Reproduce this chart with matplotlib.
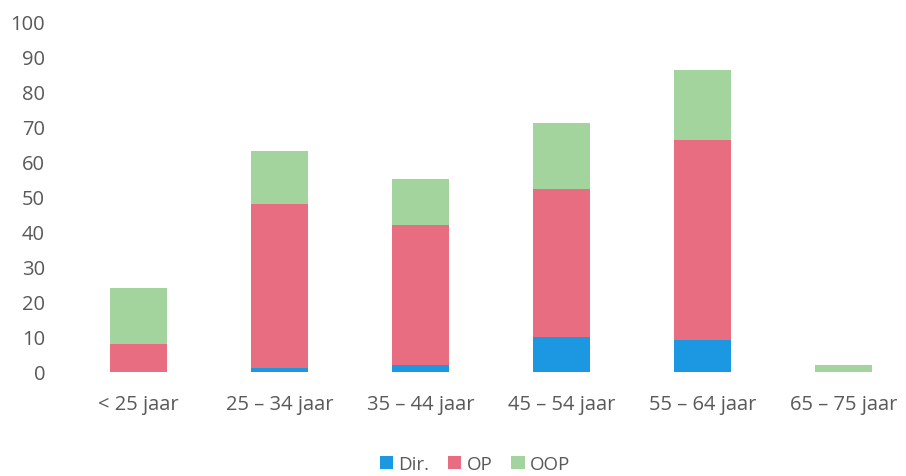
import numpy as np
import matplotlib.pyplot as plt

# age groups and counts per category
leeftijd = ['< 25 jaar', '25 – 34 jaar', '35 – 44 jaar', '45 – 54 jaar', '55 – 64 jaar', '65 – 75 jaar']
dir_vals = [0, 1, 2, 10, 9, 0]
op_vals = [8, 47, 40, 42, 57, 0]
oop_vals = [16, 15, 13, 19, 20, 2]

kleuren = {'Dir.': '#1c98e2', 'OP': '#e86d80', 'OOP': '#a3d49d'}
tekst = '#595959'

plt.rcParams['font.family'] = ['Open Sans', 'DejaVu Sans']

fig = plt.figure(figsize=(9.06, 4.77), dpi=100)
ax = fig.add_axes([68 / 906, 104 / 477, 838 / 906, 351 / 477])

x = np.arange(len(leeftijd))
breedte = 0.4
onder = np.zeros(len(leeftijd))
for naam, waarden in [('Dir.', dir_vals), ('OP', op_vals), ('OOP', oop_vals)]:
    ax.bar(x, waarden, breedte, bottom=onder, color=kleuren[naam], label=naam)
    onder += np.array(waarden)

ax.set_xlim(-0.5, -0.5 + 838 / 141)
ax.set_ylim(0, 100)
ax.set_yticks(range(0, 101, 10))
ax.set_xticks(x)
ax.set_xticklabels(leeftijd)
ax.tick_params(axis='both', length=0, labelsize=14.5, colors=tekst)
ax.tick_params(axis='y', pad=16.5)
ax.tick_params(axis='x', pad=16)
for s in ax.spines.values():
    s.set_visible(False)

fig.legend(loc='center', bbox_to_anchor=(475 / 906, 1 - 465 / 477), ncol=3,
           frameon=False, fontsize=13.5, handlelength=0.7, handleheight=0.7,
           handletextpad=0.3, columnspacing=1.0, labelcolor=tekst)

fig.savefig('out.png', dpi=100)
